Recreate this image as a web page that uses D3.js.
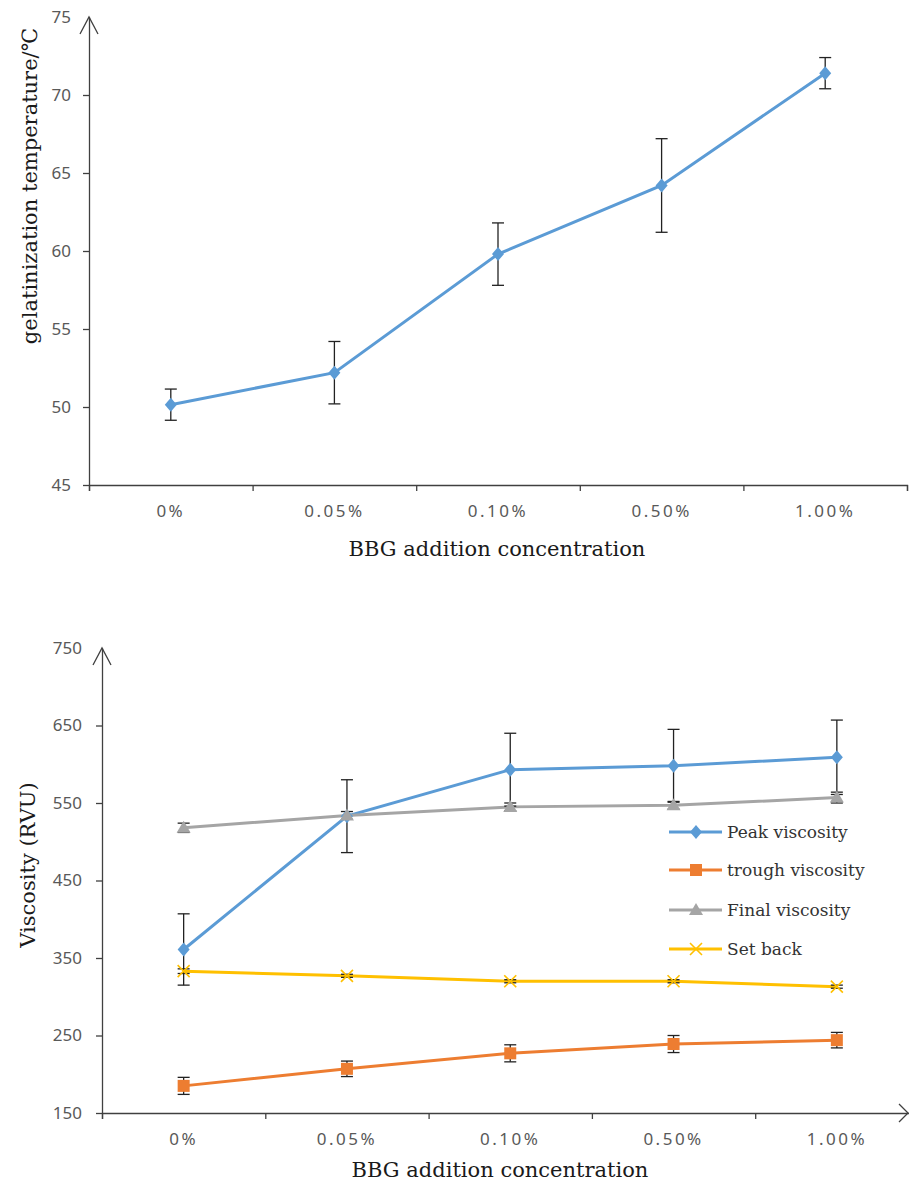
<!DOCTYPE html>
<meta charset="utf-8">
<style>
body { margin: 0; background: #fff; }
.tick text { font-family: "Noto Sans", sans-serif; font-size: 17px; fill: #595959; }
.xlab .tick text { letter-spacing: 2.5px; }
.axis path, .axis line { stroke: #404040; stroke-width: 1.3; }
.title { font-family: "DejaVu Serif", serif; font-size: 21px; fill: #1a1a1a; }
.legend text { font-family: "DejaVu Serif", serif; font-size: 17px; fill: #333; }
</style>
<svg width="909" height="1192"></svg>
<script src="https://d3js.org/d3.v7.min.js"></script>
<script>

// categories shared by both charts
var concentrations = ["0%", "0.05%", "0.10%", "0.50%", "1.00%"];

// top chart: gelatinization temperature (mean, error)
var gelTemp = [50.15, 52.2, 59.8, 64.2, 71.4];
var gelTempErr = [1.0, 2.0, 2.0, 3.0, 1.0];
var gelTicks = [45, 50, 55, 60, 65, 70, 75];

// bottom chart: viscosity series (RVU)
var peak = [361, 533, 593, 598, 609];
var peakErr = [46, 47, 47, 47, 48];
var trough = [185, 207, 227, 239, 244];
var troughErr = [11, 10, 11, 11, 10];
var finalVis = [518, 534, 545, 547, 557];
var finalErr = [6, 5, 5, 5, 7];
var setBack = [333, 327, 320, 320, 313];
var setBackErr = [3, 2, 2, 2, 2];
var viscTicks = [150, 250, 350, 450, 550, 650, 750];

var svg = d3.select("svg");

// builds one chart panel: axes with arrows, series with error bars
function drawPanel(opt) {
  var g = svg.append("g");

  var band = d3.scaleBand().domain(concentrations).range([opt.x0, opt.x0 + 5 * opt.bw]);
  var y = d3.scaleLinear().domain(opt.yDomain).range([opt.yBottom, opt.yTop]);
  var edges = d3.scaleLinear().domain([0, 5]).range([opt.x0, opt.x0 + 5 * opt.bw]);

  // x axis: boundary ticks, then labels at band centers
  g.append("g")
    .attr("class", "axis")
    .attr("transform", "translate(0," + opt.yBottom + ")")
    .call(d3.axisBottom(edges).tickValues([0, 1, 2, 3, 4, 5]).tickFormat("").tickSizeOuter(0).tickSize(6));

  g.append("g")
    .attr("class", "axis xlab")
    .attr("transform", "translate(0," + opt.yBottom + ")")
    .call(d3.axisBottom(band).tickSize(0).tickPadding(20))
    .call(function(s) { s.select(".domain").remove(); });

  // y axis
  g.append("g")
    .attr("class", "axis")
    .attr("transform", "translate(" + opt.x0 + ",0)")
    .call(d3.axisLeft(y).tickValues(opt.yTicks).tickSize(6).tickSizeOuter(0).tickPadding(opt.yPad))
    .call(function(s) { s.selectAll(".tick").filter(function(d) { return d === opt.yDomain[1]; }).select("line").remove(); });

  // open arrow at the top of the y axis
  g.append("path")
    .attr("d", "M" + (opt.x0 - 9) + "," + (opt.yTop + 17) + "L" + opt.x0 + "," + opt.yTop + "L" + (opt.x0 + 9) + "," + (opt.yTop + 17))
    .attr("fill", "none").attr("stroke", "#404040").attr("stroke-width", 1.3);

  if (opt.xArrow) {
    var ax = opt.xArrow;
    g.append("path")
      .attr("d", "M" + (ax - 9) + "," + (opt.yBottom - 9) + "L" + ax + "," + opt.yBottom + "L" + (ax - 9) + "," + (opt.yBottom + 9))
      .attr("fill", "none").attr("stroke", "#404040").attr("stroke-width", 1.3);
  }

  var cx = function(i) { return band(concentrations[i]) + band.bandwidth() / 2; };

  // series: lines first, then error bars, then markers
  opt.series.forEach(function(s) {
    var line = d3.line().x(function(d, i) { return cx(i); }).y(function(d) { return y(d); });
    g.append("path").datum(s.values)
      .attr("d", line).attr("fill", "none")
      .attr("stroke", s.color).attr("stroke-width", 3);
  });

  opt.series.forEach(function(s) {
    var eb = g.append("g").selectAll("g").data(s.values).enter().append("g");
    eb.append("line")
      .attr("x1", function(d, i) { return cx(i); }).attr("x2", function(d, i) { return cx(i); })
      .attr("y1", function(d, i) { return y(d - s.err[i]); })
      .attr("y2", function(d, i) { return y(d + s.err[i]); });
    [-1, 1].forEach(function(sg) {
      eb.append("line")
        .attr("x1", function(d, i) { return cx(i) - 6; }).attr("x2", function(d, i) { return cx(i) + 6; })
        .attr("y1", function(d, i) { return y(d + sg * s.err[i]); })
        .attr("y2", function(d, i) { return y(d + sg * s.err[i]); });
    });
    eb.selectAll("line").attr("stroke", "#222").attr("stroke-width", 1.3);
  });

  opt.series.forEach(function(s) {
    g.append("g").selectAll("path").data(s.values).enter().append("path")
      .attr("transform", function(d, i) { return "translate(" + cx(i) + "," + y(d) + ")"; })
      .attr("d", markerPath(s.marker))
      .attr("fill", s.marker === "x" ? "none" : s.color)
      .attr("stroke", s.color)
      .attr("stroke-width", s.marker === "x" ? 1.6 : 0);
  });

  // axis titles
  svg.append("text").attr("class", "title")
    .attr("transform", "translate(" + opt.yTitle[0] + "," + opt.yTitle[1] + ") rotate(-90)")
    .attr("text-anchor", "middle").attr("dy", "0.35em")
    .text(opt.yLabel);
  svg.append("text").attr("class", "title")
    .attr("x", opt.xTitle[0]).attr("y", opt.xTitle[1])
    .attr("text-anchor", "middle").attr("dy", "0.35em")
    .text("BBG addition concentration");

  return g;
}

function markerPath(kind) {
  if (kind === "diamond") return "M0,-7L6,0L0,7L-6,0Z";
  if (kind === "square") return "M-6,-6H6V6H-6Z";
  if (kind === "triangle") return "M0,-7L7,5H-7Z";
  return "M-6,-6L6,6M-6,6L6,-6";
}

// top panel
drawPanel({
  x0: 89, bw: 163.6, yTop: 17, yBottom: 485, yPad: 12,
  yDomain: [45, 75], yTicks: gelTicks,
  yLabel: "gelatinization temperature/\u2103",
  yTitle: [30, 186], xTitle: [497, 549],
  series: [{ values: gelTemp, err: gelTempErr, color: "#5B9BD5", marker: "diamond" }]
});

// bottom panel
var viscSeries = [
  { name: "Peak viscosity", values: peak, err: peakErr, color: "#5B9BD5", marker: "diamond" },
  { name: "trough viscosity", values: trough, err: troughErr, color: "#ED7D31", marker: "square" },
  { name: "Final viscosity", values: finalVis, err: finalErr, color: "#A5A5A5", marker: "triangle" },
  { name: "Set back", values: setBack, err: setBackErr, color: "#FFC000", marker: "x" }
];

drawPanel({
  x0: 102, bw: 163.3, yTop: 648, yBottom: 1113, yPad: 14,
  yDomain: [150, 750], yTicks: viscTicks, xArrow: 908,
  yLabel: "Viscosity (RVU)",
  yTitle: [28, 865], xTitle: [500, 1170],
  series: viscSeries
});

// legend
var legend = svg.append("g").attr("class", "legend")
  .selectAll("g").data(viscSeries).enter().append("g")
  .attr("transform", function(d, i) { return "translate(669," + [832, 870, 910, 949][i] + ")"; });
legend.append("line").attr("x1", 0).attr("x2", 53)
  .attr("stroke", function(d) { return d.color; }).attr("stroke-width", 3);
legend.append("path").attr("transform", "translate(27,0)")
  .attr("d", function(d) { return markerPath(d.marker); })
  .attr("fill", function(d) { return d.marker === "x" ? "none" : d.color; })
  .attr("stroke", function(d) { return d.color; })
  .attr("stroke-width", function(d) { return d.marker === "x" ? 1.6 : 0; });
legend.append("text").attr("x", 58).attr("dy", "0.35em").text(function(d) { return d.name; });

</script>
